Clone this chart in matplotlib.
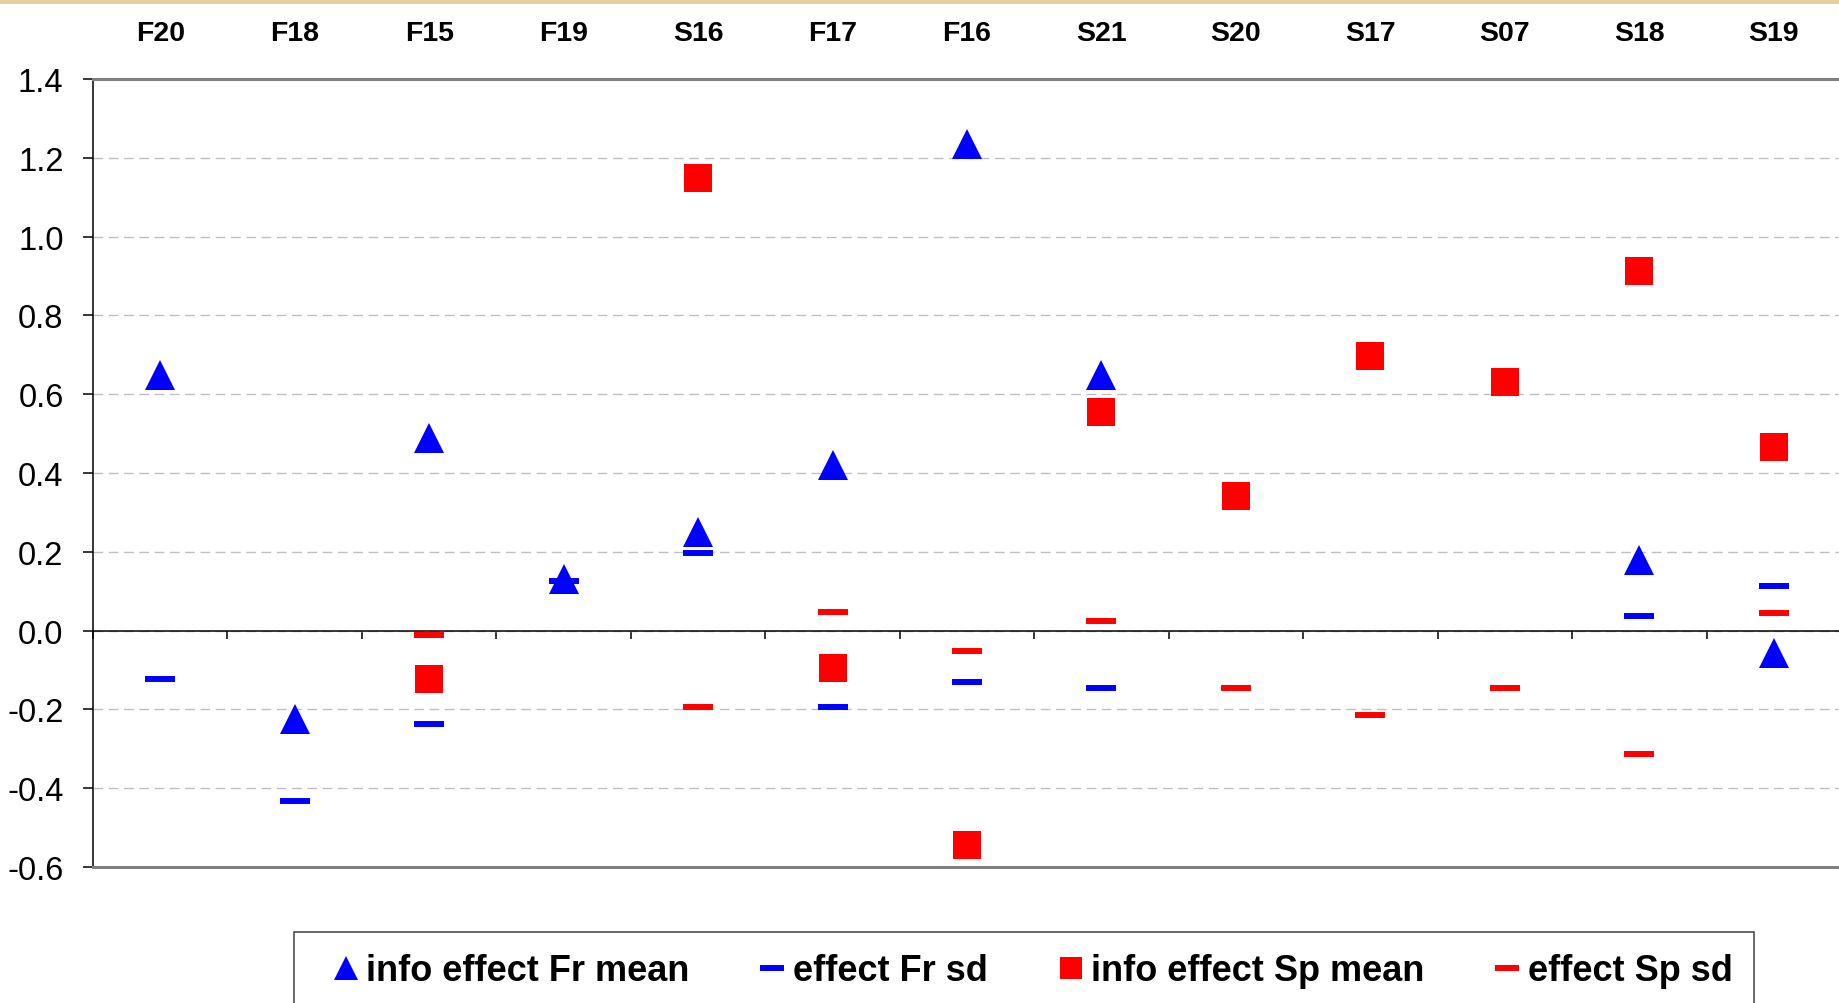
import numpy as np
import matplotlib.pyplot as plt
from matplotlib.patches import Rectangle
from matplotlib.ticker import FormatStrFormatter, MultipleLocator

plt.rcParams['font.family'] = ['Liberation Sans', 'DejaVu Sans']
plt.rcParams['axes.unicode_minus'] = False

# Data
categories = ['F20', 'F18', 'F15', 'F19', 'S16', 'F17', 'F16',
              'S21', 'S20', 'S17', 'S07', 'S18', 'S19']
nan = np.nan
fr_mean = [0.65, -0.225, 0.49, 0.13, 0.25, 0.42, 1.235, 0.65, nan, nan, nan, 0.18, -0.057]
fr_sd = [-0.124, -0.432, -0.236, 0.127, 0.197, -0.193, -0.13, -0.145, nan, nan, nan, 0.037, 0.114]
sp_mean = [nan, nan, -0.124, nan, 1.148, -0.095, -0.544, 0.555, 0.341, 0.698, 0.631, 0.913, 0.466]
sp_sd = [nan, nan, -0.012, nan, -0.193, 0.046, -0.052, 0.024, -0.145, -0.215, -0.145, -0.313, 0.044]
yticks = [-0.6, -0.4, -0.2, 0.0, 0.2, 0.4, 0.6, 0.8, 1.0, 1.2, 1.4]

W, H = 1839, 1004
fig = plt.figure(figsize=(W / 100, H / 100), dpi=100)

# beige strip at top of the slide
fig.patches.append(Rectangle((0, 1 - 5 / H), 1, 5 / H, transform=fig.transFigure,
                             facecolor='#E3CFA0', edgecolor='none'))

ax = fig.add_axes([93 / W, 1 - 868 / H, (1841 - 93) / W, (868 - 80) / H])

x = np.arange(len(categories))
blue = '#0000FF'
red = '#FF0000'

h1, = ax.plot(x, fr_mean, linestyle='none', marker='^', markersize=21.5,
              color=blue, markeredgewidth=0, label='info effect Fr mean', zorder=4)
h2, = ax.plot(x, fr_sd, linestyle='none', marker='_', markersize=21,
              markeredgewidth=4.3, color=blue, label='effect Fr sd', zorder=5)
h3, = ax.plot(x, sp_mean, linestyle='none', marker='s', markersize=19.5,
              color=red, markeredgewidth=0, label='info effect Sp mean', zorder=4)
h4, = ax.plot(x, sp_sd, linestyle='none', marker='_', markersize=21,
              markeredgewidth=4.3, color=red, label='effect Sp sd', zorder=5)

ax.set_xlim(-0.5, len(categories) - 0.5)
ax.set_ylim(-0.6, 1.4)

# y axis
ax.set_yticks(yticks)
ax.yaxis.set_major_formatter(FormatStrFormatter('%.1f'))
ax.tick_params(axis='y', direction='out', length=7.2, width=1.1, pad=14, labelsize=23.5)
ax.yaxis.grid(True, color='#C0C0C0', linestyle=(0, (7, 4)), linewidth=1.0)
ax.set_axisbelow(True)

# x axis sits at zero, category names on top
ax.spines['bottom'].set_position(('data', 0))
ax.spines['bottom'].set_linewidth(1.1)
ax.spines['left'].set_linewidth(1.1)
ax.spines['top'].set_color('#808080')
ax.spines['top'].set_linewidth(2.2)
ax.spines['right'].set_visible(False)
ax.set_xticks(x)
ax.set_xticklabels(categories, fontweight='bold', fontsize=20.5)
ax.tick_params(axis='x', which='major', bottom=False, top=False, labelbottom=False,
               labeltop=True, length=0, pad=24)
ax.xaxis.set_minor_locator(MultipleLocator(1, offset=0.5))
ax.tick_params(axis='x', which='minor', bottom=True, direction='out', length=5.8, width=1.1)
ax.axhline(-0.6, color='#808080', linewidth=2.2, clip_on=False, zorder=3)

# legend at the bottom
fig.patches.append(Rectangle((294 / W, -0.02), (1754 - 294) / W, 0.02 + 1 - 933 / H,
                             transform=fig.transFigure, facecolor='white',
                             edgecolor='#404040', linewidth=1.1))
fig.legend(handles=[h1, h2, h3, h4], loc='center left', ncol=4, frameon=False,
           bbox_to_anchor=(335 / W, 1 - 972 / H), borderpad=0, borderaxespad=0,
           handlelength=0.6, handletextpad=0.26, columnspacing=2.0, markerscale=0.8,
           prop={'size': 26, 'weight': 'bold'})

fig.savefig('out.png', dpi=100)
